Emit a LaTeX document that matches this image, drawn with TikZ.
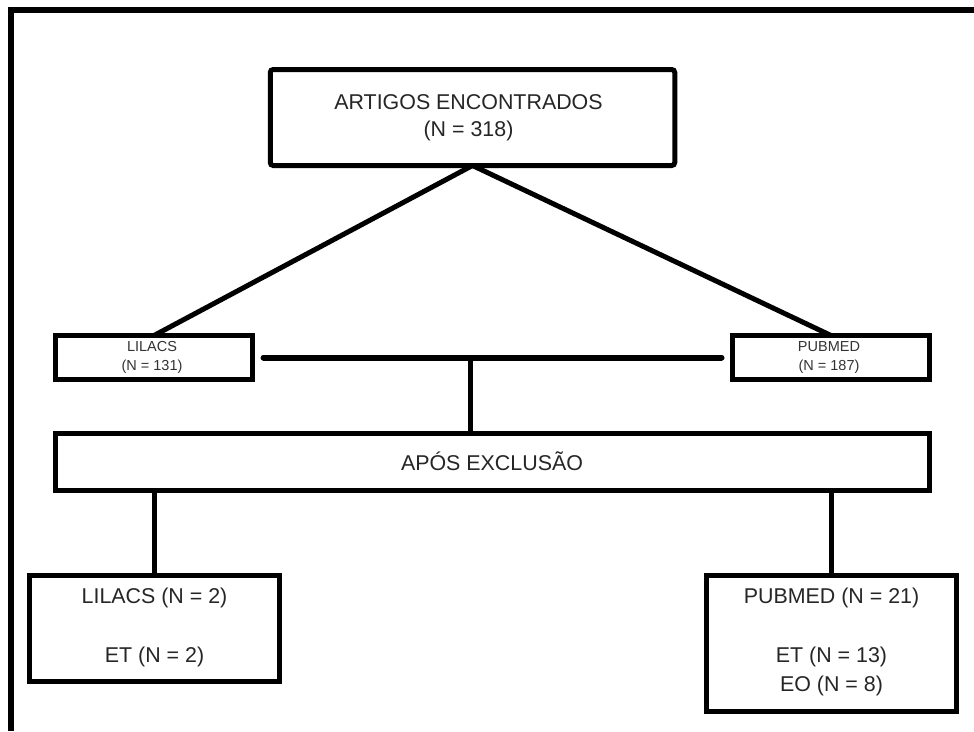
\documentclass[tikz,border=0pt]{standalone}
\usepackage{fontspec}
\setmainfont{Liberation Sans}
\begin{document}
\begin{tikzpicture}[x=1pt,y=-1pt,
  box/.style={draw=black,line width=5pt,inner sep=0pt,outer sep=0pt,fill=white},
  big/.style={font=\fontsize{21.4}{25}\selectfont,text=black!85,inner sep=0pt},
  small/.style={font=\fontsize{14.5}{17}\selectfont,text=black!80,inner sep=0pt},
  conn/.style={line width=5pt},
  frameline/.style={line width=6pt}]
\useasboundingbox (0,0) rectangle (974,731);
\fill[white] (0,0) rectangle (974,731);
% outer frame (top and left)
\coordinate (f1) at (11,731);
\coordinate (f2) at (11,10);
\coordinate (f3) at (974,10);
\draw[frameline] (f1) -- (f2) -- (f3);
% boxes
\node[box,rounded corners=3pt,minimum width=404.5pt,minimum height=96pt] (top) at (472.5,117.5) {};
\node[box,minimum width=197pt,minimum height=44pt] (lil) at (154,357.5) {};
\node[box,minimum width=197pt,minimum height=44pt] (pub) at (831,357.5) {};
\node[box,minimum width=874pt,minimum height=57pt] (apos) at (492.5,462) {};
\node[box,minimum width=250pt,minimum height=106pt] (bl) at (154.5,628.5) {};
\node[box,minimum width=250pt,minimum height=136pt] (br) at (831.5,643.5) {};
% texts
\node[big] (t1) at (468.5,102) {ARTIGOS ENCONTRADOS};
\node[big] (t2) at (468.5,131) {(N = 318)};
\node[small] (l1) at (152,347) {LILACS};
\node[small] (l2) at (152,367) {(N = 131)};
\node[small] (p1) at (829,347) {PUBMED};
\node[small] (p2) at (829,367) {(N = 187)};
\node[big] (a1) at (492,461) {APÓS EXCLUSÃO};
\node[big] (b1) at (154.5,598) {LILACS (N = 2)};
\node[big] (b2) at (154.5,657) {ET (N = 2)};
\node[big] (r1) at (831.5,598) {PUBMED (N = 21)};
\node[big] (r2) at (831.5,657) {ET (N = 13)};
\node[big] (r3) at (831.5,686) {EO (N = 8)};
% connectors
\draw[conn] (top.south) -- (lil.north);
\draw[conn] (top.south) -- (pub.north);
\coordinate (hl) at ([xshift=11pt]lil.east);
\coordinate (hr) at ([xshift=-11pt]pub.west);
\draw[line width=6pt,line cap=round] (hl) -- (hr);
\coordinate (hm) at (470,357.5);
\draw[conn] (hm) -- (hm |- apos.north);
\draw[conn] (bl.north |- apos.south) -- (bl.north);
\draw[conn] (br.north |- apos.south) -- (br.north);
\end{tikzpicture}
\end{document}
